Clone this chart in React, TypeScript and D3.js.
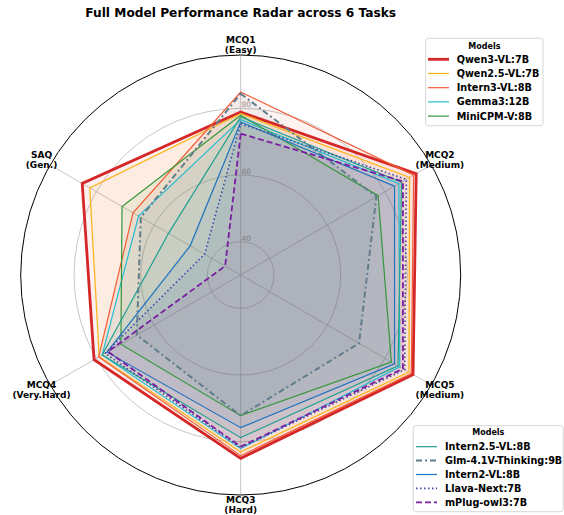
import * as d3 from 'd3';

// task axes, clockwise from the top
const TASKS = ['MCQ1', 'MCQ2', 'MCQ5', 'MCQ3', 'MCQ4', 'SAQ'];
const LEVELS = ['(Easy)', '(Medium)', '(Medium)', '(Hard)', '(Very.Hard)', '(Gen.)'];
const RING_TICKS = [40, 60, 80];

const MODELS = [
  'Qwen3-VL:7B', 'Qwen2.5-VL:7B', 'Intern3-VL:8B', 'Gemma3:12B', 'MiniCPM-V:8B',
  'Intern2.5-VL:8B', 'Glm-4.1V-Thinking:9B', 'Intern2-VL:8B', 'Llava-Next:7B', 'mPlug-owl3:7B',
];

// scores per model, same order as TASKS
const qwen3 = [78.9, 90.8, 89.7, 85.0, 80.8, 84.9];
const qwen25 = [78.4, 88.5, 88.3, 83.1, 79.0, 82.3];
const intern3 = [84.9, 89.9, 89.1, 84.2, 79.2, 67.3];
const gemma3 = [76.6, 84.8, 85.1, 82.1, 78.0, 65.4];
const minicpm = [77.9, 77.6, 82.2, 72.2, 71.5, 71.1];
const intern25 = [77.4, 85.7, 84.5, 78.8, 78.0, 55.0];
const glm = [84.4, 77.0, 71.0, 72.2, 66.0, 64.6];
const intern2 = [75.9, 83.3, 83.3, 75.8, 76.3, 47.5];
const llava = [75.4, 87.4, 86.8, 81.8, 77.0, 42.5];
const mplug = [72.4, 86.2, 86.2, 81.5, 76.0, 35.4];

const SCORES = [qwen3, qwen25, intern3, gemma3, minicpm, intern25, glm, intern2, llava, mplug];

const COLORS = ['#d62728', '#fcb520', '#f25c35', '#22bcd0', '#34963a', '#1fa090', '#607d8b', '#1e73be', '#3949ab', '#7b1fa2'];
const WIDTHS = [2.8, 1.3, 1.2, 1.2, 1.2, 1.2, 2, 1.2, 1.6, 1.8];
const DASHES = [null, null, null, null, null, null, '6,3,2,3', null, '1.5,2.5', '6,3'];

const W = 564;
const H = 515;
const CX = 240.7;
const CY = 275;
const R = 220;
const FONT = '"DejaVu Sans", sans-serif';

const r = d3.scaleLinear().domain([30, 96]).range([0, R]);
const angle = (i: number) => (i * 2 * Math.PI) / TASKS.length;

const radar = d3.lineRadial<number>()
  .angle((_d, i) => angle(i))
  .radius(d => r(d))
  .curve(d3.curveLinearClosed);

function Legend({ x, y, w, h, rows, rowGap, handleX, textX, titleY, items }: {
  x: number; y: number; w: number; h: number; rows: number; rowGap: number;
  handleX: number; textX: number; titleY: number; items: number[];
}) {
  return (
    <g>
      <rect x={x} y={y} width={w} height={h} rx={2.5} fill="#fff" fillOpacity={0.85} stroke="#cccccc" strokeWidth={0.8} />
      <text x={x + w / 2} y={titleY} textAnchor="middle" fontFamily={FONT} fontWeight="bold" fontSize={8}>Models</text>
      {items.map((m, i) => {
        const cy = rows + i * rowGap;
        return (
          <g key={MODELS[m]}>
            <line x1={handleX} x2={handleX + 21} y1={cy} y2={cy} stroke={COLORS[m]}
              strokeWidth={WIDTHS[m]} strokeDasharray={DASHES[m] ?? undefined} />
            <text x={textX} y={cy + 3.5} fontFamily={FONT} fontWeight="bold" fontSize={9.7}>{MODELS[m]}</text>
          </g>
        );
      })}
    </g>
  );
}

export default function App() {
  return (
    <svg width={W} height={H} style={{ position: 'absolute', left: 0, top: 0, background: '#fff' }}>
      <text x={CX} y={16.5} textAnchor="middle" fontFamily={FONT} fontWeight="bold" fontSize={12.2}>
        Full Model Performance Radar across 6 Tasks
      </text>
      <g transform={`translate(${CX},${CY})`}>
        {RING_TICKS.map(t => (
          <circle key={t} r={r(t)} fill="none" stroke="#b8b8b8" strokeWidth={0.8} />
        ))}
        {TASKS.map((t, i) => (
          <line key={t} x1={0} y1={0} x2={R * Math.sin(angle(i))} y2={-R * Math.cos(angle(i))}
            stroke="#b8b8b8" strokeWidth={0.8} />
        ))}
        {RING_TICKS.map(t => (
          <text key={t} x={1} y={-r(t) - 1} fontFamily={FONT} fontSize={7.3} fill="#999">{t}</text>
        ))}
        {SCORES.map((s, m) => (
          <path key={MODELS[m]} d={radar(s) ?? ''} fill={COLORS[m]} fillOpacity={0.07} stroke="none" />
        ))}
        {SCORES.map((s, m) => (
          <path key={MODELS[m]} d={radar(s) ?? ''} fill="none" stroke={COLORS[m]}
            strokeWidth={WIDTHS[m]} strokeDasharray={DASHES[m] ?? undefined} strokeLinejoin="miter" />
        ))}
        <circle r={R} fill="none" stroke="#000" strokeWidth={1} />
        {TASKS.map((t, i) => {
          const lx = 230 * Math.sin(angle(i));
          const ly = -230 * Math.cos(angle(i));
          return (
            <text key={t} textAnchor="middle" fontFamily={FONT} fontWeight="bold" fontSize={9}>
              <tspan x={lx} y={ly - 1.8}>{t}</tspan>
              <tspan x={lx} y={ly + 8.4}>{LEVELS[i]}</tspan>
            </text>
          );
        })}
      </g>
      <Legend x={425.7} y={38.3} w={117.3} h={87.4} rows={59.3} rowGap={14.2}
        handleX={428} textX={456.7} titleY={48.6} items={[0, 1, 2, 3, 4]} />
      <Legend x={413.3} y={425.7} w={150} h={86} rows={446.7} rowGap={13.9}
        handleX={416} textX={445} titleY={434.6} items={[5, 6, 7, 8, 9]} />
    </svg>
  );
}
